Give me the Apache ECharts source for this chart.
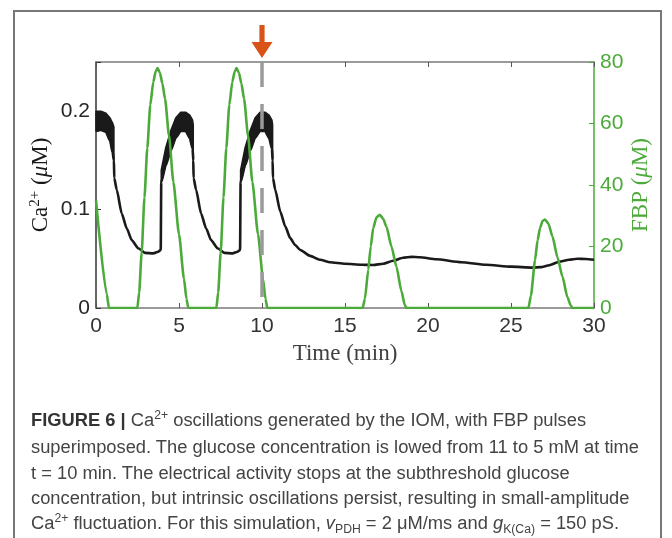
<!DOCTYPE html>
<html>
<head>
<meta charset="utf-8">
<script src="https://cdn.jsdelivr.net/npm/echarts/dist/echarts.min.js"></script>
<style>
html,body{margin:0;padding:0;background:#fff;width:672px;height:538px;overflow:hidden;}
#frame{position:absolute;left:13px;top:10px;width:649px;height:600px;border:2px solid #777;box-sizing:border-box;}
#chart{position:absolute;left:0;top:0;width:672px;height:538px;}
#caption{position:absolute;left:31px;top:408px;font-family:"Liberation Sans Narrow","Liberation Sans",Arial,sans-serif;font-size:18px;line-height:25.3px;color:#444;white-space:nowrap;transform-origin:0 0;}
#caption .ln{display:block;}
#caption b{color:#333;}
#caption sup{font-size:12px;vertical-align:0;position:relative;top:-7px;}
#caption sub{font-size:12px;vertical-align:0;position:relative;top:4px;}
</style>
</head>
<body>
<div id="frame"></div>
<div id="chart"></div>
<div id="caption">
<span class="ln" id="l1"><b>FIGURE 6 |</b> Ca<sup>2+</sup> oscillations generated by the IOM, with FBP pulses</span>
<span class="ln" id="l2">superimposed. The glucose concentration is lowed from 11 to 5 mM at time</span>
<span class="ln" id="l3">t = 10 min. The electrical activity stops at the subthreshold glucose</span>
<span class="ln" id="l4">concentration, but intrinsic oscillations persist, resulting in small-amplitude</span>
<span class="ln" id="l5">Ca<sup>2+</sup> fluctuation. For this simulation, <i>v</i><sub>PDH</sub> = 2 μM/ms and <i>g</i><sub>K(Ca)</sub> = 150 pS.</span>
</div>
<script>
// ---- Data ----
// Main Ca2+ trace (lower envelope during bursts), time in min, value in µM
const caTime = [0, 0.3, 0.6, 0.85, 1.0, 1.08, 1.1, 1.25, 1.55, 1.85, 2.15, 2.55, 2.95, 3.45, 3.75, 3.9,
  3.93, 4.2, 4.5, 4.8, 5.1, 5.4, 5.65, 5.82, 5.86, 5.88, 6.03, 6.33, 6.63, 6.93, 7.33, 7.73, 8.23, 8.53, 8.68,
  8.71, 8.98, 9.28, 9.58, 9.88, 10.18, 10.43, 10.6, 10.64, 10.66, 10.8, 11.1, 11.4, 11.7, 12.0, 12.3, 12.9, 13.5,
  14.1, 15.0, 16.0, 16.7, 17.3, 17.9, 18.5, 19.0, 19.5, 20.5, 22.0, 23.5, 25.0, 26.3, 26.8, 27.3, 27.9, 28.5, 29.0, 29.5, 30];
const caValue = [0.180, 0.181, 0.179, 0.170, 0.158, 0.150, 0.132, 0.120, 0.096, 0.081, 0.069, 0.0607, 0.056, 0.0555, 0.0572, 0.059,
  0.128, 0.145, 0.160, 0.173, 0.180, 0.180, 0.173, 0.162, 0.150, 0.132, 0.120, 0.096, 0.081, 0.069, 0.0607, 0.056, 0.0555, 0.0572, 0.059,
  0.128, 0.145, 0.160, 0.173, 0.180, 0.180, 0.173, 0.162, 0.150, 0.132, 0.120, 0.098, 0.083, 0.071, 0.064, 0.059, 0.053, 0.049,
  0.0465, 0.045, 0.044, 0.0437, 0.045, 0.048, 0.051, 0.052, 0.0515, 0.0495, 0.0465, 0.044, 0.042, 0.041, 0.0415, 0.0435, 0.047, 0.049, 0.050, 0.0498, 0.049];

// Fast-oscillation bands during bursts (lower and upper envelopes)
const burst1Time = [0, 0.3, 0.6, 0.85, 1.0, 1.08];
const burst1Low  = [0.180, 0.181, 0.179, 0.170, 0.158, 0.150];
const burst1High = [0.200, 0.200, 0.198, 0.193, 0.188, 0.184];
const burst2Time = [3.93, 4.2, 4.5, 4.8, 5.1, 5.4, 5.65, 5.82, 5.86];
const burst2Low  = [0.128, 0.145, 0.160, 0.173, 0.180, 0.180, 0.173, 0.162, 0.150];
const burst2High = [0.140, 0.163, 0.180, 0.193, 0.199, 0.199, 0.196, 0.191, 0.186];
const burst3Time = [8.71, 8.98, 9.28, 9.58, 9.88, 10.18, 10.43, 10.6, 10.64];
const burst3Low  = [0.128, 0.145, 0.160, 0.173, 0.180, 0.180, 0.173, 0.162, 0.150];
const burst3High = [0.140, 0.163, 0.180, 0.193, 0.199, 0.199, 0.196, 0.191, 0.186];

// FBP trace (µM)
const fbpTime = [0, 0.65, 0.78,
  2.49, 2.6, 2.75, 2.92, 3.09, 3.27, 3.45, 3.6, 3.71, 3.85, 4.0, 4.16, 4.4, 4.66, 5.0, 5.3, 5.45, 5.56,
  7.25, 7.36, 7.51, 7.68, 7.85, 8.03, 8.21, 8.36, 8.47, 8.61, 8.76, 8.92, 9.16, 9.42, 9.76, 10.06, 10.21, 10.32,
  16.06, 16.2, 16.4, 16.55, 16.7, 16.9, 17.1, 17.3, 17.5, 17.8, 18.1, 18.4, 18.6, 18.7,
  26.05, 26.2, 26.45, 26.6, 26.75, 26.9, 27.05, 27.25, 27.5, 27.8, 28.1, 28.4, 28.6, 28.7, 30];
const fbpValue = [35, 4.5, 0,
  0, 5, 18, 36, 52, 66, 73.5, 77, 78, 76.5, 73, 68, 56, 41, 24, 9.5, 3, 0,
  0, 5, 18, 36, 52, 66, 73.5, 77, 78, 76.5, 73, 68, 56, 41, 24, 9.5, 3, 0,
  0, 3, 12.4, 20, 26, 29.5, 30.3, 29, 26.4, 20, 13.4, 5.5, 1, 0,
  0, 4, 15.6, 22, 26, 28.3, 28.8, 27.5, 23.2, 16.5, 10.2, 3.5, 0.8, 0, 0];

// Glucose step time (dashed line and arrow)
const glucoseStepTime = 10;

// Axis tick settings
const timeTicks = {min: 0, max: 30, interval: 5};
const caTicks = {min: 0, max: 0.25, interval: 0.1};
const fbpTicks = {min: 0, max: 80, interval: 20};

// ---- Chart ----
const BLACK = '#1a1a1a';
const GREEN = '#4caa3a';
const zip = (a, b) => a.map((v, i) => [v, b[i]]);
const bands = [[burst1Time, burst1Low, burst1High], [burst2Time, burst2Low, burst2High], [burst3Time, burst3Low, burst3High]];

const series = [];
// Burst bands: filled region between lower and upper envelopes, mapped through the axes
series.push({
  type: 'custom', xAxisIndex: 0, yAxisIndex: 0, silent: true, z: 2,
  data: bands.map((b, k) => [b[0][0], b[1][0], k]),
  encode: {x: 0, y: 1},
  renderItem: function (params, api) {
    const b = bands[api.value(2)];
    const pts = [];
    for (let i = 0; i < b[0].length; i++) pts.push(api.coord([b[0][i], b[2][i]]));
    for (let i = b[0].length - 1; i >= 0; i--) pts.push(api.coord([b[0][i], b[1][i]]));
    return {
      type: 'polygon', shape: {points: pts, smooth: 0},
      style: {fill: BLACK, stroke: BLACK, lineWidth: 1.5, lineJoin: 'round'}
    };
  }
});
series.push({
  type: 'line', name: 'Ca', xAxisIndex: 0, yAxisIndex: 0, data: zip(caTime, caValue),
  symbol: 'none', smooth: 0.2, smoothMonotone: 'x', lineStyle: {color: BLACK, width: 2.6}, z: 3
});
series.push({
  type: 'line', name: 'FBP', xAxisIndex: 0, yAxisIndex: 1, data: zip(fbpTime, fbpValue),
  symbol: 'none', smooth: 0.2, smoothMonotone: 'x', lineStyle: {color: GREEN, width: 2.6}, z: 4
});
series.push({
  type: 'line', xAxisIndex: 0, yAxisIndex: 0, data: [], symbol: 'none', z: 5,
  markLine: {
    silent: true, symbol: ['none', 'none'], label: {show: false},
    lineStyle: {color: '#9a9a9a', width: 3.5, type: [25, 17], dashOffset: 31},
    data: [{xAxis: glucoseStepTime}]
  }
});

const frameLine = {onZero: false, lineStyle: {color: '#7a7a7a', width: 1.5}};
const option = {
  animation: false,
  grid: {left: 96, right: 78, top: 62, bottom: 230},
  xAxis: [{
    type: 'value', position: 'bottom', min: timeTicks.min, max: timeTicks.max, interval: timeTicks.interval,
    axisLine: frameLine,
    axisTick: {inside: true, length: 5, lineStyle: {color: '#555', width: 1}},
    axisLabel: {fontSize: 21, color: '#333', margin: 8, fontFamily: 'Liberation Sans'},
    splitLine: {show: false},
    name: 'Time (min)', nameLocation: 'middle', nameGap: 34, nameMoveOverlap: false,
    nameTextStyle: {fontFamily: 'Liberation Serif', fontSize: 23, color: '#404040'}
  }, {
    type: 'value', position: 'top', min: timeTicks.min, max: timeTicks.max, interval: timeTicks.interval,
    axisLine: frameLine,
    axisTick: {inside: true, length: 5, lineStyle: {color: '#555', width: 1}},
    axisLabel: {show: false}, splitLine: {show: false}
  }],
  yAxis: [{
    type: 'value', position: 'left', min: caTicks.min, max: caTicks.max, interval: caTicks.interval,
    axisLine: {show: true, onZero: false, lineStyle: {color: '#333', width: 1.5}},
    axisTick: {show: true, inside: true, length: 5, lineStyle: {color: '#333', width: 1}},
    axisLabel: {fontSize: 21, color: '#262626', margin: 6, fontFamily: 'Liberation Sans',
      formatter: v => (v > 0.2 + 1e-9 ? '' : (v === 0 ? '0' : String(+v.toFixed(1))))},
    splitLine: {show: false},
    name: '{n|Ca}{s|2+}{n| (}{m|μ}{n|M)}', nameLocation: 'middle', nameGap: 42, nameRotate: 90, nameMoveOverlap: false,
    nameTextStyle: {
      rich: {
        n: {fontFamily: 'Liberation Serif', fontSize: 23, color: BLACK, lineHeight: 26},
        s: {fontFamily: 'Liberation Serif', fontSize: 15, color: BLACK, verticalAlign: 'top'},
        m: {fontFamily: 'Liberation Serif', fontStyle: 'italic', fontSize: 23, color: BLACK, lineHeight: 26}
      }
    }
  }, {
    type: 'value', position: 'right', min: fbpTicks.min, max: fbpTicks.max, interval: fbpTicks.interval,
    axisLine: {show: true, onZero: false, lineStyle: {color: GREEN, width: 1.5}},
    axisTick: {show: true, inside: true, length: 5, lineStyle: {color: GREEN, width: 1}},
    axisLabel: {fontSize: 21, color: GREEN, margin: 6, fontFamily: 'Liberation Sans'},
    splitLine: {show: false},
    name: '{n|FBP (}{m|μ}{n|M)}', nameLocation: 'middle', nameGap: 34, nameRotate: 90, nameMoveOverlap: false,
    nameTextStyle: {
      rich: {
        n: {fontFamily: 'Liberation Serif', fontSize: 23, color: GREEN, lineHeight: 26},
        m: {fontFamily: 'Liberation Serif', fontStyle: 'italic', fontSize: 23, color: GREEN, lineHeight: 26}
      }
    }
  }],
  series: series
};

const chart = echarts.init(document.getElementById('chart'), null, {renderer: 'canvas'});
chart.setOption(option);

// Arrow marking the glucose step, placed through the x scale
const ax = chart.convertToPixel({xAxisIndex: 0}, glucoseStepTime);
chart.setOption({
  graphic: [{
    type: 'polygon', z: 10,
    shape: {points: [[ax - 2.6, 25], [ax + 2.6, 25], [ax + 2.6, 42], [ax + 10.5, 42], [ax, 58], [ax - 10.5, 42], [ax - 2.6, 42]]},
    style: {fill: '#d95319'}
  }]
});

// Fit caption width to the reference line length
const l2 = document.getElementById('l2');
const range = document.createRange();
range.selectNodeContents(l2);
const w = range.getBoundingClientRect().width;
document.getElementById('caption').style.transform = 'scaleX(' + (608 / w) + ')';
</script>
</body>
</html>
